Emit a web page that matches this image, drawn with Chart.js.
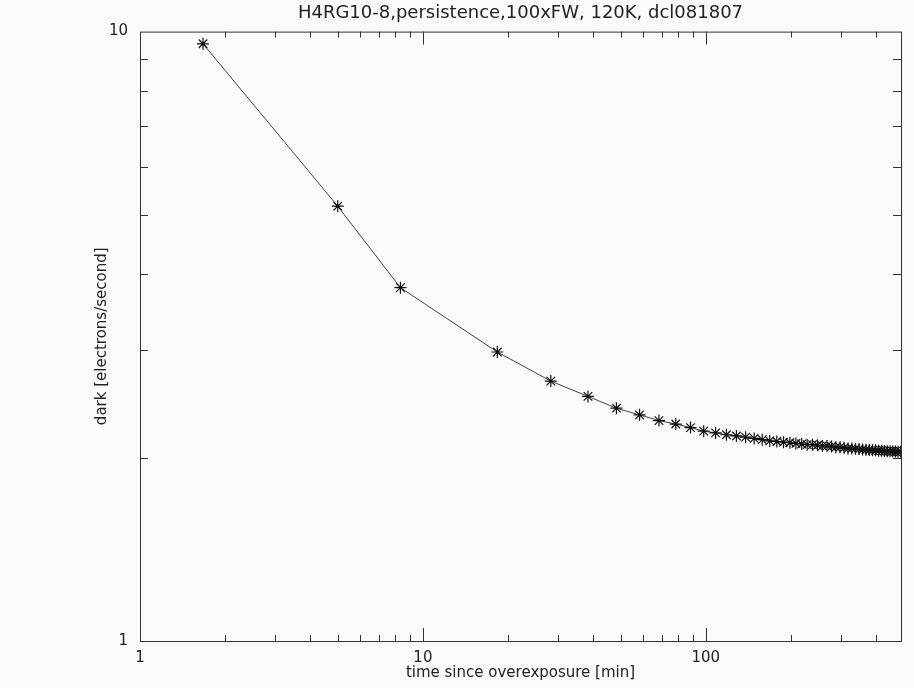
<!DOCTYPE html>
<html>
<head>
<meta charset="utf-8">
<script src="https://cdn.jsdelivr.net/npm/chart.js@4.4.1/dist/chart.umd.min.js"></script>
<style>
  html, body { margin: 0; padding: 0; background: #fafafa; }
  #wrap { width: 914px; height: 688px; }
</style>
</head>
<body>
<div id="wrap"><canvas id="persistChart" width="914" height="688"></canvas></div>
<script>
// minutes since overexposure
const times = [1.67, 5.0, 8.33, 18.33, 28.33, 38.33, 48.33, 58.33, 68.33, 78.33,
  88.33, 98.33, 108.33, 118.33, 128.33, 138.33, 148.33, 158.33, 168.33, 178.33,
  188.33, 198.33, 208.33, 218.33, 228.33, 238.33, 248.33, 258.33, 268.33, 278.33,
  288.33, 298.33, 308.33, 318.33, 328.33, 338.33, 348.33, 358.33, 368.33, 378.33,
  388.33, 398.33, 408.33, 418.33, 428.33, 438.33, 448.33, 458.33, 468.33, 478.33,
  488.33];
// dark current, electrons/second
const darkRate = [9.55, 5.17, 3.80, 2.98, 2.67, 2.52, 2.41, 2.35, 2.30, 2.27,
  2.24, 2.21, 2.195, 2.18, 2.17, 2.16, 2.15, 2.14, 2.13, 2.125,
  2.12, 2.115, 2.11, 2.105, 2.10, 2.10, 2.095, 2.09, 2.09, 2.085,
  2.08, 2.08, 2.075, 2.07, 2.07, 2.068, 2.065, 2.062, 2.06, 2.058,
  2.056, 2.055, 2.053, 2.052, 2.05, 2.049, 2.048, 2.047, 2.046, 2.045,
  2.044];
const xLabels = [1, 10, 100];
const yLabels = [1, 10];

const FONT = 'DejaVu Sans';
const INK = '#222';

// only 1..9 x 10^n get a tick mark
const isLogStep = v => {
  const m = v / Math.pow(10, Math.floor(Math.log10(v) + 1e-9));
  return Math.abs(m - Math.round(m)) < 1e-6;
};
const isMajor = v => Math.abs(Math.log10(v) - Math.round(Math.log10(v))) < 1e-9;

// box + inward ticks on all four sides, IDL style
const boxPlugin = {
  id: 'box',
  beforeDraw(chart) {
    const c = chart.ctx;
    c.save();
    c.fillStyle = '#fafafa';
    c.fillRect(0, 0, chart.width, chart.height);
    c.restore();
  },
  afterDatasetsDraw(chart) {
    const c = chart.ctx;
    const a = chart.chartArea;
    c.save();
    c.strokeStyle = '#333';
    c.lineWidth = 1;
    c.strokeRect(a.left + 0.5, a.top + 0.5, a.right - a.left, a.bottom - a.top);
    c.beginPath();
    chart.scales.x.ticks.forEach(t => {
      if (t.value <= 1 || t.value >= 490 || !isLogStep(t.value)) return;
      const x = Math.round(chart.scales.x.getPixelForValue(t.value)) + 0.5;
      const len = isMajor(t.value) ? 13 : 6;
      c.moveTo(x, a.bottom); c.lineTo(x, a.bottom - len);
      c.moveTo(x, a.top); c.lineTo(x, a.top + len);
    });
    chart.scales.y.ticks.forEach(t => {
      if (t.value <= 1 || t.value >= 10 || !isLogStep(t.value)) return;
      const y = Math.round(chart.scales.y.getPixelForValue(t.value)) + 0.5;
      c.moveTo(a.left, y); c.lineTo(a.left + 8, y);
      c.moveTo(a.right, y); c.lineTo(a.right - 8, y);
    });
    c.stroke();
    c.restore();
  }
};

const ctx = document.getElementById('persistChart').getContext('2d');
new Chart(ctx, {
  type: 'line',
  data: {
    datasets: [{
      data: times.map((t, i) => ({ x: t, y: darkRate[i] })),
      borderColor: '#444',
      borderWidth: 1,
      pointStyle: 'star',
      pointRadius: 6,
      pointBorderColor: '#111',
      pointBorderWidth: 1.2,
      pointBackgroundColor: '#111',
      tension: 0,
      fill: false
    }]
  },
  options: {
    responsive: false,
    animation: false,
    layout: { padding: { left: 0, right: 13, top: 0, bottom: 0 } },
    plugins: {
      legend: { display: false },
      tooltip: { enabled: false },
      title: {
        display: true,
        fullSize: false,
        text: 'H4RG10-8,persistence,100xFW, 120K, dcl081807',
        color: INK,
        font: { family: FONT, size: 18, weight: 'normal' },
        padding: { top: 3, bottom: 7 }
      }
    },
    scales: {
      x: {
        type: 'logarithmic',
        min: 1,
        max: 490,
        grid: { display: false },
        border: { display: false },
        afterFit: s => { s.height = 47; },
        ticks: {
          autoSkip: false,
          maxRotation: 0,
          padding: 0,
          color: INK,
          font: { family: FONT, size: 15 },
          callback: v => xLabels.includes(v) ? String(v) : ''
        },
        title: {
          display: true,
          text: 'time since overexposure [min]',
          color: INK,
          font: { family: FONT, size: 15 },
          padding: { top: 0, bottom: 6 }
        }
      },
      y: {
        type: 'logarithmic',
        min: 1,
        max: 10,
        grid: { display: false },
        border: { display: false },
        afterFit: s => { s.width = 140; },
        ticks: {
          autoSkip: false,
          padding: 4,
          color: INK,
          font: { family: FONT, size: 15 },
          callback: v => yLabels.includes(v) ? String(v) : ''
        },
        title: {
          display: true,
          text: 'dark [electrons/second]',
          color: INK,
          font: { family: FONT, size: 15 },
          padding: { top: 93, bottom: 0 }
        }
      }
    }
  },
  plugins: [boxPlugin]
});
</script>
</body>
</html>
